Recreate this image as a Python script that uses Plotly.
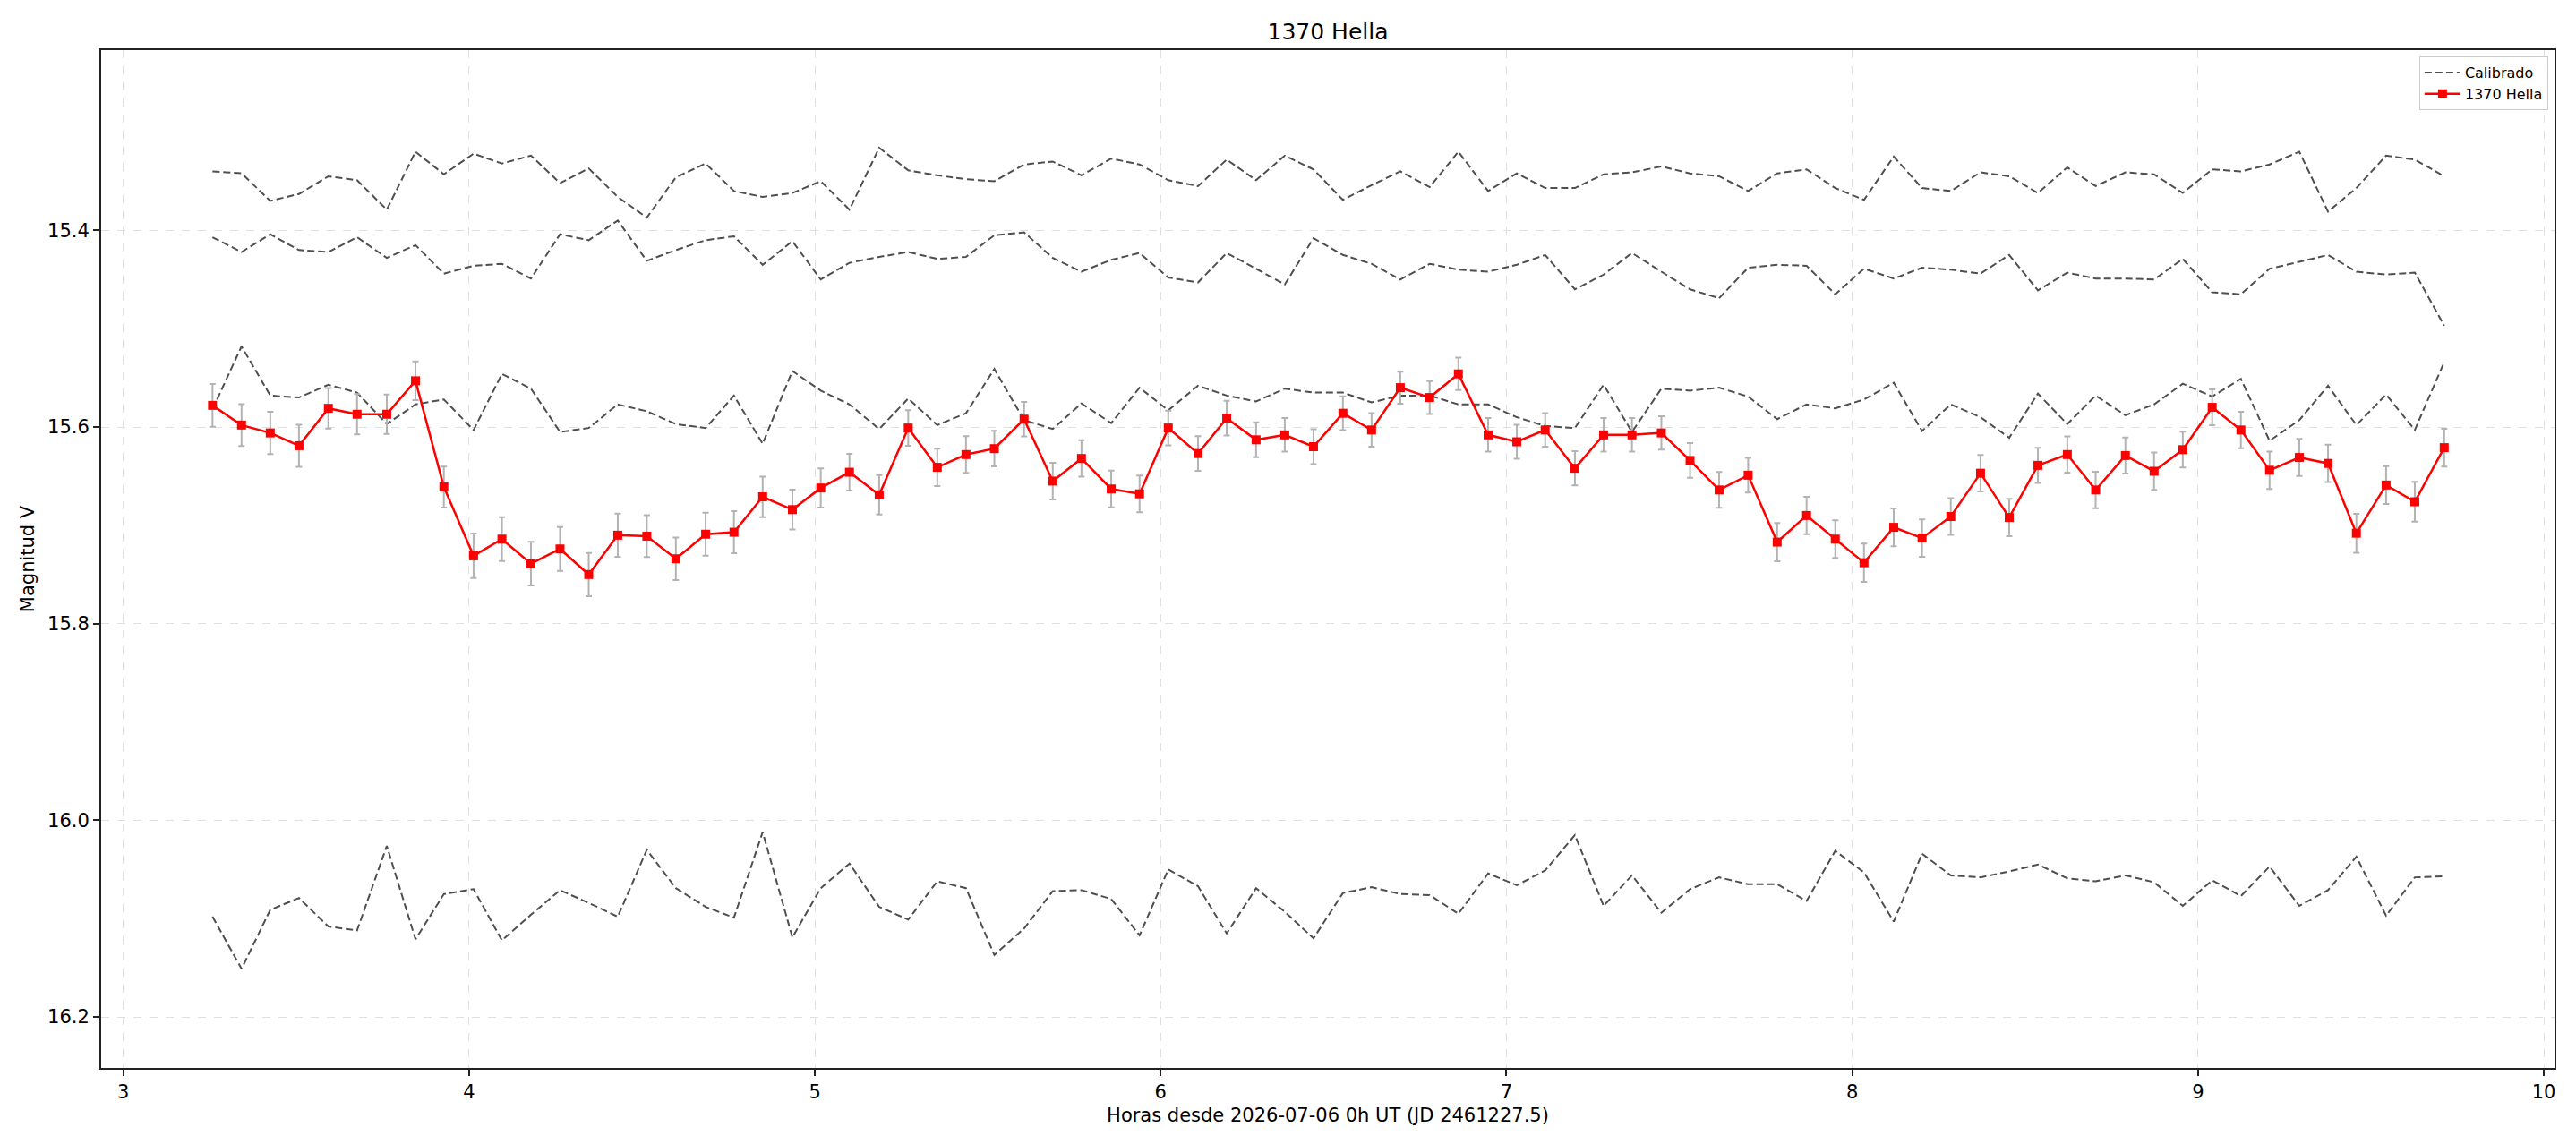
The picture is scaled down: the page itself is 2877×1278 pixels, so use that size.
import plotly.graph_objects as go

# ---- data ----
hours = [3.258, 3.342, 3.425, 3.508, 3.593, 3.676, 3.762, 3.845, 3.927, 4.013,
         4.095, 4.179, 4.263, 4.346, 4.430, 4.514, 4.598, 4.684, 4.766, 4.849,
         4.935, 5.017, 5.100, 5.186, 5.270, 5.354, 5.437, 5.519, 5.605, 5.688,
         5.771, 5.857, 5.939, 6.022, 6.108, 6.191, 6.276, 6.359, 6.442, 6.527,
         6.610, 6.693, 6.778, 6.861, 6.947, 7.030, 7.112, 7.198, 7.281, 7.363,
         7.448, 7.531, 7.615, 7.699, 7.783, 7.868, 7.951, 8.034, 8.120, 8.202,
         8.285, 8.371, 8.454, 8.537, 8.622, 8.704, 8.790, 8.873, 8.956, 9.041,
         9.124, 9.207, 9.293, 9.376, 9.458, 9.544, 9.627, 9.712]

hella_mag = [15.578, 15.598, 15.606, 15.619, 15.581, 15.587, 15.587, 15.553, 15.661, 15.731,
             15.714, 15.739, 15.724, 15.750, 15.710, 15.711, 15.734, 15.709, 15.707, 15.671,
             15.684, 15.662, 15.646, 15.669, 15.601, 15.641, 15.628, 15.622, 15.592, 15.655,
             15.632, 15.663, 15.668, 15.601, 15.627, 15.591, 15.613, 15.608, 15.620, 15.586,
             15.603, 15.560, 15.570, 15.546, 15.608, 15.615, 15.603, 15.642, 15.608, 15.608,
             15.606, 15.634, 15.664, 15.649, 15.717, 15.690, 15.714, 15.738, 15.702, 15.713,
             15.691, 15.647, 15.692, 15.639, 15.628, 15.664, 15.629, 15.645, 15.623, 15.580,
             15.603, 15.644, 15.631, 15.637, 15.708, 15.659, 15.676, 15.621]

hella_err = [0.0217, 0.0213, 0.0214, 0.0214, 0.0206, 0.0205, 0.0200, 0.0197, 0.0208, 0.0227,
             0.0222, 0.0222, 0.0222, 0.0220, 0.0219, 0.0213, 0.0217, 0.0219, 0.0214, 0.0206,
             0.0203, 0.0200, 0.0187, 0.0200, 0.0182, 0.0190, 0.0186, 0.0181, 0.0176, 0.0187,
             0.0186, 0.0187, 0.0186, 0.0176, 0.0176, 0.0176, 0.0178, 0.0171, 0.0178, 0.0171,
             0.0171, 0.0163, 0.0168, 0.0165, 0.0171, 0.0173, 0.0171, 0.0174, 0.0171, 0.0171,
             0.0170, 0.0176, 0.0182, 0.0176, 0.0195, 0.0190, 0.0192, 0.0195, 0.0193, 0.0190,
             0.0187, 0.0186, 0.0190, 0.0179, 0.0184, 0.0186, 0.0184, 0.0190, 0.0182, 0.0182,
             0.0186, 0.0190, 0.0189, 0.0190, 0.0198, 0.0193, 0.0203, 0.0193]

comp_a = [15.340, 15.342, 15.370, 15.363, 15.345, 15.349, 15.379, 15.320, 15.343, 15.322,
          15.332, 15.324, 15.352, 15.337, 15.366, 15.387, 15.346, 15.332, 15.360, 15.366,
          15.362, 15.350, 15.379, 15.316, 15.339, 15.344, 15.348, 15.350, 15.333, 15.330,
          15.344, 15.327, 15.333, 15.349, 15.355, 15.328, 15.349, 15.324, 15.338, 15.369,
          15.354, 15.340, 15.356, 15.320, 15.360, 15.342, 15.357, 15.357, 15.343, 15.341,
          15.335, 15.342, 15.345, 15.360, 15.342, 15.338, 15.357, 15.369, 15.325, 15.357,
          15.360, 15.341, 15.345, 15.362, 15.336, 15.355, 15.341, 15.343, 15.362, 15.338,
          15.340, 15.333, 15.320, 15.381, 15.357, 15.324, 15.328, 15.345]

comp_b = [15.407, 15.422, 15.404, 15.420, 15.422, 15.407, 15.428, 15.415, 15.444, 15.436,
          15.434, 15.449, 15.404, 15.410, 15.390, 15.431, 15.420, 15.410, 15.406, 15.435,
          15.411, 15.450, 15.433, 15.427, 15.422, 15.429, 15.427, 15.405, 15.402, 15.428,
          15.442, 15.430, 15.423, 15.448, 15.453, 15.423, 15.439, 15.455, 15.408, 15.425,
          15.434, 15.450, 15.434, 15.440, 15.442, 15.435, 15.425, 15.460, 15.445, 15.423,
          15.442, 15.460, 15.469, 15.438, 15.435, 15.436, 15.465, 15.439, 15.449, 15.438,
          15.440, 15.444, 15.425, 15.461, 15.443, 15.449, 15.449, 15.450, 15.429, 15.463,
          15.465, 15.439, 15.432, 15.425, 15.442, 15.445, 15.443, 15.497]

comp_c = [15.582, 15.518, 15.568, 15.570, 15.557, 15.565, 15.597, 15.577, 15.572, 15.603,
          15.546, 15.561, 15.605, 15.601, 15.577, 15.584, 15.597, 15.601, 15.568, 15.617,
          15.543, 15.563, 15.577, 15.602, 15.571, 15.598, 15.586, 15.541, 15.593, 15.602,
          15.576, 15.596, 15.560, 15.583, 15.558, 15.568, 15.574, 15.561, 15.565, 15.565,
          15.575, 15.568, 15.568, 15.577, 15.577, 15.590, 15.599, 15.601, 15.557, 15.605,
          15.561, 15.563, 15.560, 15.569, 15.592, 15.577, 15.581, 15.572, 15.555, 15.604,
          15.577, 15.590, 15.611, 15.566, 15.597, 15.568, 15.588, 15.577, 15.556, 15.569,
          15.551, 15.614, 15.593, 15.558, 15.598, 15.567, 15.603, 15.534]

comp_d = [16.098, 16.151, 16.091, 16.079, 16.108, 16.112, 16.026, 16.121, 16.075, 16.070,
          16.122, 16.096, 16.071, 16.084, 16.098, 16.030, 16.069, 16.088, 16.099, 16.012,
          16.119, 16.069, 16.044, 16.088, 16.101, 16.062, 16.069, 16.137, 16.110, 16.072,
          16.071, 16.080, 16.117, 16.050, 16.067, 16.115, 16.069, 16.093, 16.120, 16.074,
          16.068, 16.075, 16.076, 16.095, 16.054, 16.066, 16.051, 16.015, 16.087, 16.056,
          16.094, 16.070, 16.058, 16.065, 16.065, 16.082, 16.031, 16.053, 16.103, 16.034,
          16.056, 16.058, 16.052, 16.045, 16.059, 16.062, 16.056, 16.063, 16.087, 16.061,
          16.077, 16.047, 16.087, 16.071, 16.037, 16.097, 16.058, 16.057]

comparisons = [comp_a, comp_b, comp_c, comp_d]
x_ticks = [3, 4, 5, 6, 7, 8, 9, 10]
y_ticks = [15.4, 15.6, 15.8, 16.0, 16.2]
y_tick_labels = ["15.4", "15.6", "15.8", "16.0", "16.2"]

title_text = "1370 Hella"
x_title = "Horas desde 2026-07-06 0h UT (JD 2461227.5)"
y_title = "Magnitud V"

FONT = "DejaVu Sans"

fig = go.Figure()

for i, comp in enumerate(comparisons):
    fig.add_trace(go.Scatter(
        x=hours, y=comp, mode="lines", name="Calibrado",
        legendgroup="cal", showlegend=(i == 0),
        line=dict(color="#4f4f4f", width=2, dash="8px,4px"),
    ))

fig.add_trace(go.Scatter(
    x=hours, y=hella_mag, mode="lines+markers", name="1370 Hella",
    line=dict(color="#ff0000", width=2.5),
    marker=dict(symbol="square", size=10, color="#ff0000"),
    error_y=dict(type="data", array=hella_err, visible=True,
                 color="#b3b3b3", thickness=2, width=3.5),
))

axis_common = dict(
    showline=True, linecolor="#222222", linewidth=2, mirror=True,
    ticks="outside", ticklen=7, tickwidth=1.5, tickcolor="#222222",
    showgrid=True, gridcolor="#e0e0e0", gridwidth=1, griddash="dash",
    zeroline=False,
    tickfont=dict(family=FONT, size=21, color="#000000"),
)

fig.update_xaxes(
    range=[2.936, 10.031], tickvals=x_ticks, ticktext=[str(v) for v in x_ticks],
    title=dict(text=x_title, font=dict(family=FONT, size=21, color="#000000"), standoff=7),
    **axis_common,
)
fig.update_yaxes(
    range=[16.2518, 15.2167], tickvals=y_ticks, ticktext=y_tick_labels,
    title=dict(text=y_title, font=dict(family=FONT, size=21, color="#000000"), standoff=9),
    **axis_common,
)

fig.update_layout(
    width=2877, height=1278,
    margin=dict(l=113, r=24, t=56, b=85),
    paper_bgcolor="white", plot_bgcolor="white",
    font=dict(family=FONT, color="#000000"),
    title=dict(text=title_text, x=0.5, xref="paper", xanchor="center",
               y=1 - 35 / 1278, yref="container", yanchor="middle",
               font=dict(family=FONT, size=25, color="#000000")),
    legend=dict(x=0.9974, y=0.9938, xanchor="right", yanchor="top",
                bgcolor="rgba(255,255,255,0.85)", bordercolor="#cccccc", borderwidth=1,
                font=dict(family=FONT, size=16, color="#000000"),
                tracegroupgap=0, itemwidth=40),
    showlegend=True,
)

fig.write_html("out.html")
